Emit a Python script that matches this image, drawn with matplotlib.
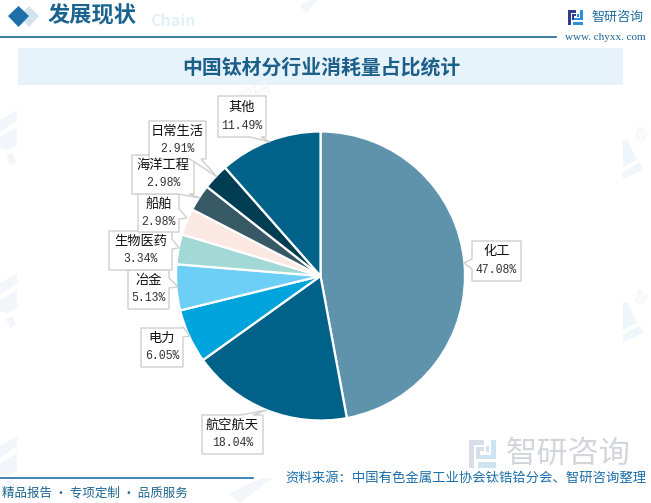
import matplotlib
matplotlib.use('Agg')
import matplotlib.pyplot as plt
from matplotlib.patches import Polygon, Rectangle

plt.rcParams['font.family'] = ['Noto Sans CJK SC', 'DejaVu Sans']

W, H = 651, 503

categories = ['化工', '航空航天', '电力', '冶金', '生物医药', '船舶', '海洋工程', '日常生活', '其他']
values = [47.08, 18.04, 6.05, 5.13, 3.34, 2.98, 2.98, 2.91, 11.49]
colors = ['#5F93AC', '#006288', '#00A4DC', '#6ECFF6', '#A2D9D6', '#FCE8E3', '#375865', '#003C52', '#006288']

# label boxes in pixels: left, top, right, bottom, side of the tail, tail tip
boxes = [
    (472, 241, 521, 281, 'l', (464, 263)),
    (202, 415, 263, 454, 't', (267, 410)),
    (141, 328, 183, 367, 'r', (190, 336)),
    (128, 270, 169, 309, 'r', (178, 287)),
    (109, 231, 172, 270, 'r', (179, 248)),
    (138, 194, 179, 232, 'r', (187, 218)),
    (132, 155, 194, 194, 'b', (200, 198)),
    (149, 121, 206, 159, 'b', (217, 177)),
    (218, 96, 266, 137, 'b', (270, 142)),
]

fig = plt.figure(figsize=(W / 100, H / 100), dpi=100)

# page furniture, y runs downwards like in the picture
bg = fig.add_axes([0, 0, 1, 1], zorder=0)
bg.set_xlim(0, W)
bg.set_ylim(H, 0)
bg.axis('off')


def logo(x, y, s, dark, light):
    # the company mark, drawn from bars
    for rx, ry, rw, rh in [(0, 0, 8, 2.5), (0, 0, 2.5, 15), (3.8, 4, 4.2, 2.2), (3.8, 4, 2, 6)]:
        bg.add_patch(Rectangle((x + rx * s, y + ry * s), rw * s, rh * s, color=dark, lw=0))
    for rx, ry, rw, rh in [(12, 0, 2.5, 10), (6, 8, 8.5, 2), (5, 12, 9.5, 3), (9, 3.5, 2, 3)]:
        bg.add_patch(Rectangle((x + rx * s, y + ry * s), rw * s, rh * s, color=light, lw=0))


# faint watermark tiles, cut off at the page edges as in the picture
for dy in [0, 163, 326]:
    bg.add_patch(Polygon([(0, 120 + dy), (17, 110 + dy), (17, 120 + dy), (0, 132 + dy)], color='#F2F6FA', lw=0))
    bg.add_patch(Polygon([(0, 137 + dy), (17, 127 + dy), (17, 145 + dy), (8, 150 + dy), (0, 148 + dy)], color='#F2F6FA', lw=0))
    bg.add_patch(Polygon([(6, 156 + dy), (12, 153 + dy), (16, 162 + dy), (10, 165 + dy)], color='#F2F6FA', lw=0))
for dy in [0, 163]:
    bg.add_patch(Polygon([(623, 140 + dy), (628, 140 + dy), (637, 160 + dy), (623, 167 + dy)], color='#EEF6FB', lw=0))
    bg.add_patch(Polygon([(623, 172 + dy), (640, 162 + dy), (643, 170 + dy), (623, 179 + dy)], color='#EEF6FB', lw=0))
    bg.text(640, 135 + dy, '智', color='#F3F3F3', fontsize=10, rotation=-25, ha='center', va='center')
bg.add_patch(Polygon([(300, 6), (310, 0), (318, 0), (306, 13)], color='#F2F5F8', lw=0))
bg.add_patch(Polygon([(228, 494), (262, 478), (272, 478), (240, 503)], color='#F2F6FA', lw=0))
bg.text(255, 95, '智研', color='#F5F5F5', fontsize=13, rotation=25, ha='center', va='center')

bg.add_patch(Polygon([(29, 6), (39, 16), (29, 27), (19, 16)], color='#D3E4EE', lw=0))
bg.add_patch(Polygon([(18.5, 6), (29, 16), (18.5, 27), (8, 16)], color='#1C6FA8', lw=0))
bg.text(196, 21, 'Chain', color='#E3F0F9', fontsize=11.5, fontweight='bold', ha='right', va='center')
bg.text(92, 16, '发展现状', color='#1C6490', fontsize=16, fontweight='bold', ha='center', va='center')
bg.plot([0, 556], [37, 37], color='#1C6490', lw=1.2)

logo(568, 10, 1, '#2F3F8F', '#2A8FD8')
bg.text(617, 17, '智研咨询', color='#1F6F9F', fontsize=9.4, ha='center', va='center')
bg.text(605, 37, 'www. chyxx. com', color='#1C6490', fontsize=8, family='Liberation Serif', ha='center', va='center')

bg.add_patch(Rectangle((18, 48), 605, 37, color='#E6F3FB', lw=0))
bg.text(321, 67, '中国钛材分行业消耗量占比统计', color='#1C5F88', fontsize=14.3, fontweight='bold', ha='center', va='center')

logo(469, 440, 1.85, '#D6DEE7', '#CFE4F2')
bg.text(568, 454, '智研咨询', color='#D2D6DA', fontsize=22.5, ha='center', va='center')

bg.plot([0, 253], [478, 478], color='#1C6FA8', lw=1.2)
bg.text(2, 493, '精品报告 · 专项定制 · 品质服务', color='#1C6490', fontsize=9, ha='left', va='center')
bg.text(646, 478, '资料来源：中国有色金属工业协会钛锆铪分会、智研咨询整理', color='#1C6FA8', fontsize=9.6, ha='right', va='center')

# pie, centre (320.5, 276), radius 144.5 px
cx, cy, r = 320.5, 276, 144.5
pie_ax = fig.add_axes([(cx - r) / W, 1 - (cy + r) / H, 2 * r / W, 2 * r / H], zorder=1)
pie_ax.pie(values, colors=colors, startangle=90, counterclock=False, radius=1,
           wedgeprops={'edgecolor': 'white', 'linewidth': 1.6})
pie_ax.set_xlim(-1, 1)
pie_ax.set_ylim(-1, 1)

# labels on top
top = fig.add_axes([0, 0, 1, 1], zorder=2)
top.set_xlim(0, W)
top.set_ylim(H, 0)
top.axis('off')
top.patch.set_alpha(0)


def callout(l, t, rt, b, side, tip):
    my = (t + b) / 2
    if side == 'r':
        return [(l, t), (rt, t), (rt, tip[1] - 9), tip, (rt, tip[1] + 1), (rt, b), (l, b)]
    if side == 'l':
        return [(l, t), (rt, t), (rt, b), (l, b), (l, my + 8), tip, (l, my - 2)]
    if side == 't':
        return [(l, t), (rt - 22, t), tip, (rt - 10, t), (rt, t), (rt, b), (l, b)]
    return [(l, t), (rt, t), (rt, b), (rt - 5, b), tip, (rt - 16, b), (l, b)]


for name, val, box in zip(categories, values, boxes):
    l, t, rt, b, side, tip = box
    top.add_patch(Polygon(callout(l, t, rt, b, side, tip), closed=True, facecolor='white', edgecolor='#CFCFCF', lw=1))
    mx = (l + rt) / 2
    top.text(mx, t + (b - t) * 0.27, name, fontsize=9.5, color='#111111', ha='center', va='center')
    top.text(mx, t + (b - t) * 0.73, '%.2f%%' % val, fontsize=8.3, color='#333333',
             family='Liberation Mono', ha='center', va='center')

fig.savefig('out.png', dpi=100)
